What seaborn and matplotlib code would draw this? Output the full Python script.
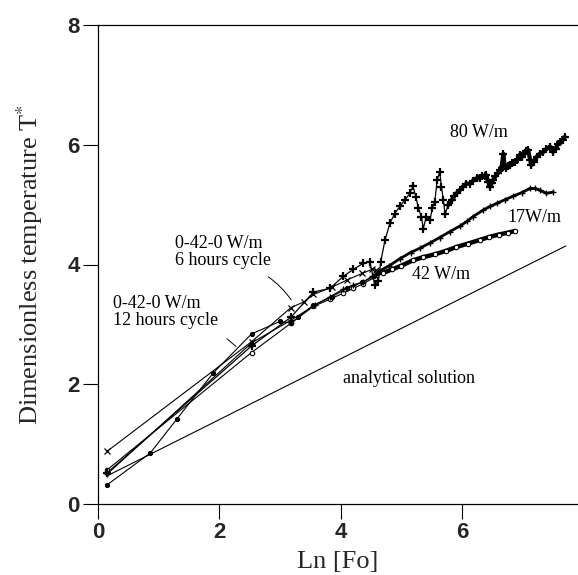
import matplotlib
matplotlib.use("Agg")
import matplotlib.pyplot as plt
import seaborn as sns

# ---------------- data ----------------
x_80 = [0.15, 2.53, 3.18, 3.55, 3.82, 4.04, 4.21, 4.37, 4.48, 4.56, 4.62, 4.66, 4.73, 4.81,
        4.89, 4.98, 5.06, 5.14, 5.19, 5.24, 5.28, 5.33, 5.36, 5.41, 5.47, 5.51, 5.55, 5.59,
        5.63, 5.66, 5.69, 5.72, 5.77, 5.83, 5.87, 5.91, 5.96, 6.01, 6.07, 6.13, 6.18, 6.24,
        6.29, 6.33, 6.37, 6.40, 6.43, 6.46, 6.49, 6.51, 6.55, 6.59, 6.62, 6.65, 6.68, 6.70,
        6.73, 6.76, 6.79, 6.83, 6.87, 6.90, 6.95, 6.99, 7.03, 7.06, 7.09, 7.12, 7.14, 7.18,
        7.23, 7.28, 7.34, 7.39, 7.45, 7.50, 7.54, 7.58, 7.62, 7.66, 7.69]
y_80 = [0.52, 2.64, 3.12, 3.54, 3.60, 3.80, 3.92, 4.02, 4.05, 3.66, 3.72, 4.05, 4.41, 4.69,
        4.85, 4.98, 5.08, 5.19, 5.31, 5.12, 4.94, 4.80, 4.60, 4.80, 4.74, 4.94, 5.05, 5.41,
        5.55, 5.30, 5.08, 4.84, 4.99, 5.08, 5.14, 5.19, 5.24, 5.30, 5.35, 5.35, 5.40, 5.44,
        5.44, 5.47, 5.48, 5.49, 5.38, 5.30, 5.36, 5.41, 5.47, 5.52, 5.58, 5.62, 5.85, 5.65,
        5.62, 5.64, 5.66, 5.69, 5.72, 5.74, 5.83, 5.80, 5.86, 5.90, 5.91, 5.75, 5.66, 5.72,
        5.80, 5.85, 5.88, 5.93, 5.97, 5.88, 5.93, 6.02, 6.05, 6.08, 6.13]

x_17 = [0.15, 2.53, 3.18, 3.57, 3.82, 4.04, 4.21, 4.37, 4.51, 4.62, 4.80, 4.98, 5.15, 5.30,
        5.47, 5.63, 5.80, 5.96, 6.08, 6.18, 6.35, 6.46, 6.57, 6.70, 6.84, 6.98, 7.12, 7.20,
        7.28, 7.39, 7.50]
y_17 = [0.50, 2.69, 3.07, 3.32, 3.46, 3.59, 3.66, 3.71, 3.80, 3.88, 3.98, 4.10, 4.20, 4.27,
        4.36, 4.45, 4.55, 4.64, 4.72, 4.80, 4.91, 4.97, 5.02, 5.08, 5.14, 5.20, 5.27, 5.27,
        5.24, 5.19, 5.21]

x_42 = [0.15, 2.53, 3.18, 3.55, 3.82, 4.04, 4.21, 4.37, 4.55, 4.70, 4.85, 5.00, 5.19, 5.35,
        5.55, 5.74, 5.90, 6.10, 6.29, 6.45, 6.60, 6.75, 6.87]
y_42 = [0.57, 2.53, 3.02, 3.30, 3.42, 3.52, 3.60, 3.68, 3.78, 3.86, 3.92, 3.98, 4.07, 4.12,
        4.17, 4.23, 4.29, 4.35, 4.41, 4.46, 4.50, 4.53, 4.56]

x_6h = [0.15, 2.53, 3.18, 3.40, 3.55, 3.85, 4.10, 4.35, 4.52, 4.58]
y_6h = [0.88, 2.71, 3.28, 3.38, 3.50, 3.62, 3.74, 3.85, 3.92, 3.90]

x_12h = [0.15, 0.86, 1.30, 1.90, 2.53, 3.00, 3.18, 3.30, 3.55, 3.85, 4.10, 4.35, 4.55, 4.62]
y_12h = [0.32, 0.85, 1.42, 2.19, 2.84, 3.05, 3.02, 3.12, 3.32, 3.46, 3.60, 3.70, 3.80, 3.86]

x_an = [0.15, 7.71]
y_an = [0.47, 4.31]

x_ticks = [0, 2, 4, 6]
y_ticks = [0, 2, 4, 6, 8]

# ---------------- style ----------------
sns.set_style("ticks")
plt.rcParams['font.family'] = ['Liberation Serif', 'DejaVu Serif']
plt.rcParams['mathtext.fontset'] = 'stix'

fig = plt.figure(figsize=(5.78, 5.75), dpi=100)
ax = fig.add_axes([98 / 578, 1 - 504 / 575, 480 / 578, 479 / 575])

k = dict(color='black', sort=False, estimator=None, ax=ax, legend=False)
BK = 'black'


def subset(xs, ys, lo, hi=99):
    idx = [i for i, v in enumerate(xs) if lo <= v <= hi]
    return [xs[i] for i in idx], [ys[i] for i in idx]


sns.lineplot(x=x_an, y=y_an, linewidth=0.8, **k)

# thin full curves
sns.lineplot(x=x_42, y=y_42, linewidth=0.8, **k)
sns.lineplot(x=x_17, y=y_17, linewidth=0.8, **k)

# dense late parts (thick bands of markers)
lx, ly = subset(x_42, y_42, 4.6)
sns.lineplot(x=lx, y=ly, linewidth=3.2, marker='o', markersize=3.2,
             markerfacecolor='white', markeredgecolor=BK, markeredgewidth=0.8, **k)
lx, ly = subset(x_17, y_17, 4.6)
sns.lineplot(x=lx, y=ly, linewidth=2.0, marker='+', markersize=4,
             markeredgecolor=BK, markeredgewidth=1.0, **k)

# early markers of 42 and 17
ex, ey = subset(x_42, y_42, 0, 4.5)
sns.lineplot(x=ex, y=ey, linewidth=0, marker='o', markersize=3.2,
             markerfacecolor='white', markeredgecolor=BK, markeredgewidth=0.8, **k)
ex, ey = subset(x_17, y_17, 0, 4.55)
sns.lineplot(x=ex, y=ey, linewidth=0, marker='+', markersize=4,
             markeredgecolor=BK, markeredgewidth=1.0, **k)

sns.lineplot(x=x_6h, y=y_6h, linewidth=0.8, marker='x', markersize=4,
             markeredgecolor=BK, markeredgewidth=0.9, **k)
sns.lineplot(x=x_12h, y=y_12h, linewidth=0.8, marker='.', markersize=6,
             markeredgecolor=BK, markerfacecolor=BK, **k)

sns.lineplot(x=x_80, y=y_80, linewidth=0.9, marker='+', markersize=5.5,
             markeredgecolor=BK, markeredgewidth=1.6, **k)
lx, ly = subset(x_80, y_80, 5.75)
sns.lineplot(x=lx, y=ly, linewidth=3.0, **k)

ax.set_xlim(0, 7.91)
ax.set_ylim(0, 8)
ax.set_xticks(x_ticks)
ax.set_yticks(y_ticks)
ax.tick_params(axis='both', direction='out', length=11, width=0.8, color='black',
               pad=2, labelsize=16)
for lab in ax.get_xticklabels() + ax.get_yticklabels():
    lab.set_fontfamily(['Liberation Sans', 'DejaVu Sans'])
    lab.set_fontweight('bold')
for s in ['left', 'top', 'bottom']:
    ax.spines[s].set_linewidth(0.9)
    ax.spines[s].set_color('black')
ax.spines['right'].set_visible(False)

ax.set_xlabel('Ln [Fo]', fontsize=19, labelpad=6)
ax.set_ylabel(r'Dimensionless temperature T$^{*}$', fontsize=19, labelpad=16)

ann = dict(fontsize=13, color='black')
ax.text(5.80, 6.21, '80 W/m', va='center', ha='left', **ann)
ax.text(6.74, 4.79, '17W/m', va='center', ha='left', **ann)
ax.text(5.17, 3.84, '42 W/m', va='center', ha='left', **ann)
ax.text(4.04, 2.09, 'analytical solution', va='center', ha='left', **ann)
ax.text(1.27, 4.21, '0-42-0 W/m\n6 hours cycle', va='center', ha='left',
        linespacing=1.0, **ann)
ax.text(0.25, 3.20, '0-42-0 W/m\n12 hours cycle', va='center', ha='left',
        linespacing=1.0, **ann)
ax.annotate('', xy=(3.21, 3.37), xytext=(2.77, 3.82),
            arrowprops=dict(arrowstyle='-', color='black', lw=0.7,
                            connectionstyle='arc3,rad=-0.1'))
ax.annotate('', xy=(2.31, 2.60), xytext=(2.09, 2.79),
            arrowprops=dict(arrowstyle='-', color='black', lw=0.7))

fig.savefig('out.png', dpi=100)
